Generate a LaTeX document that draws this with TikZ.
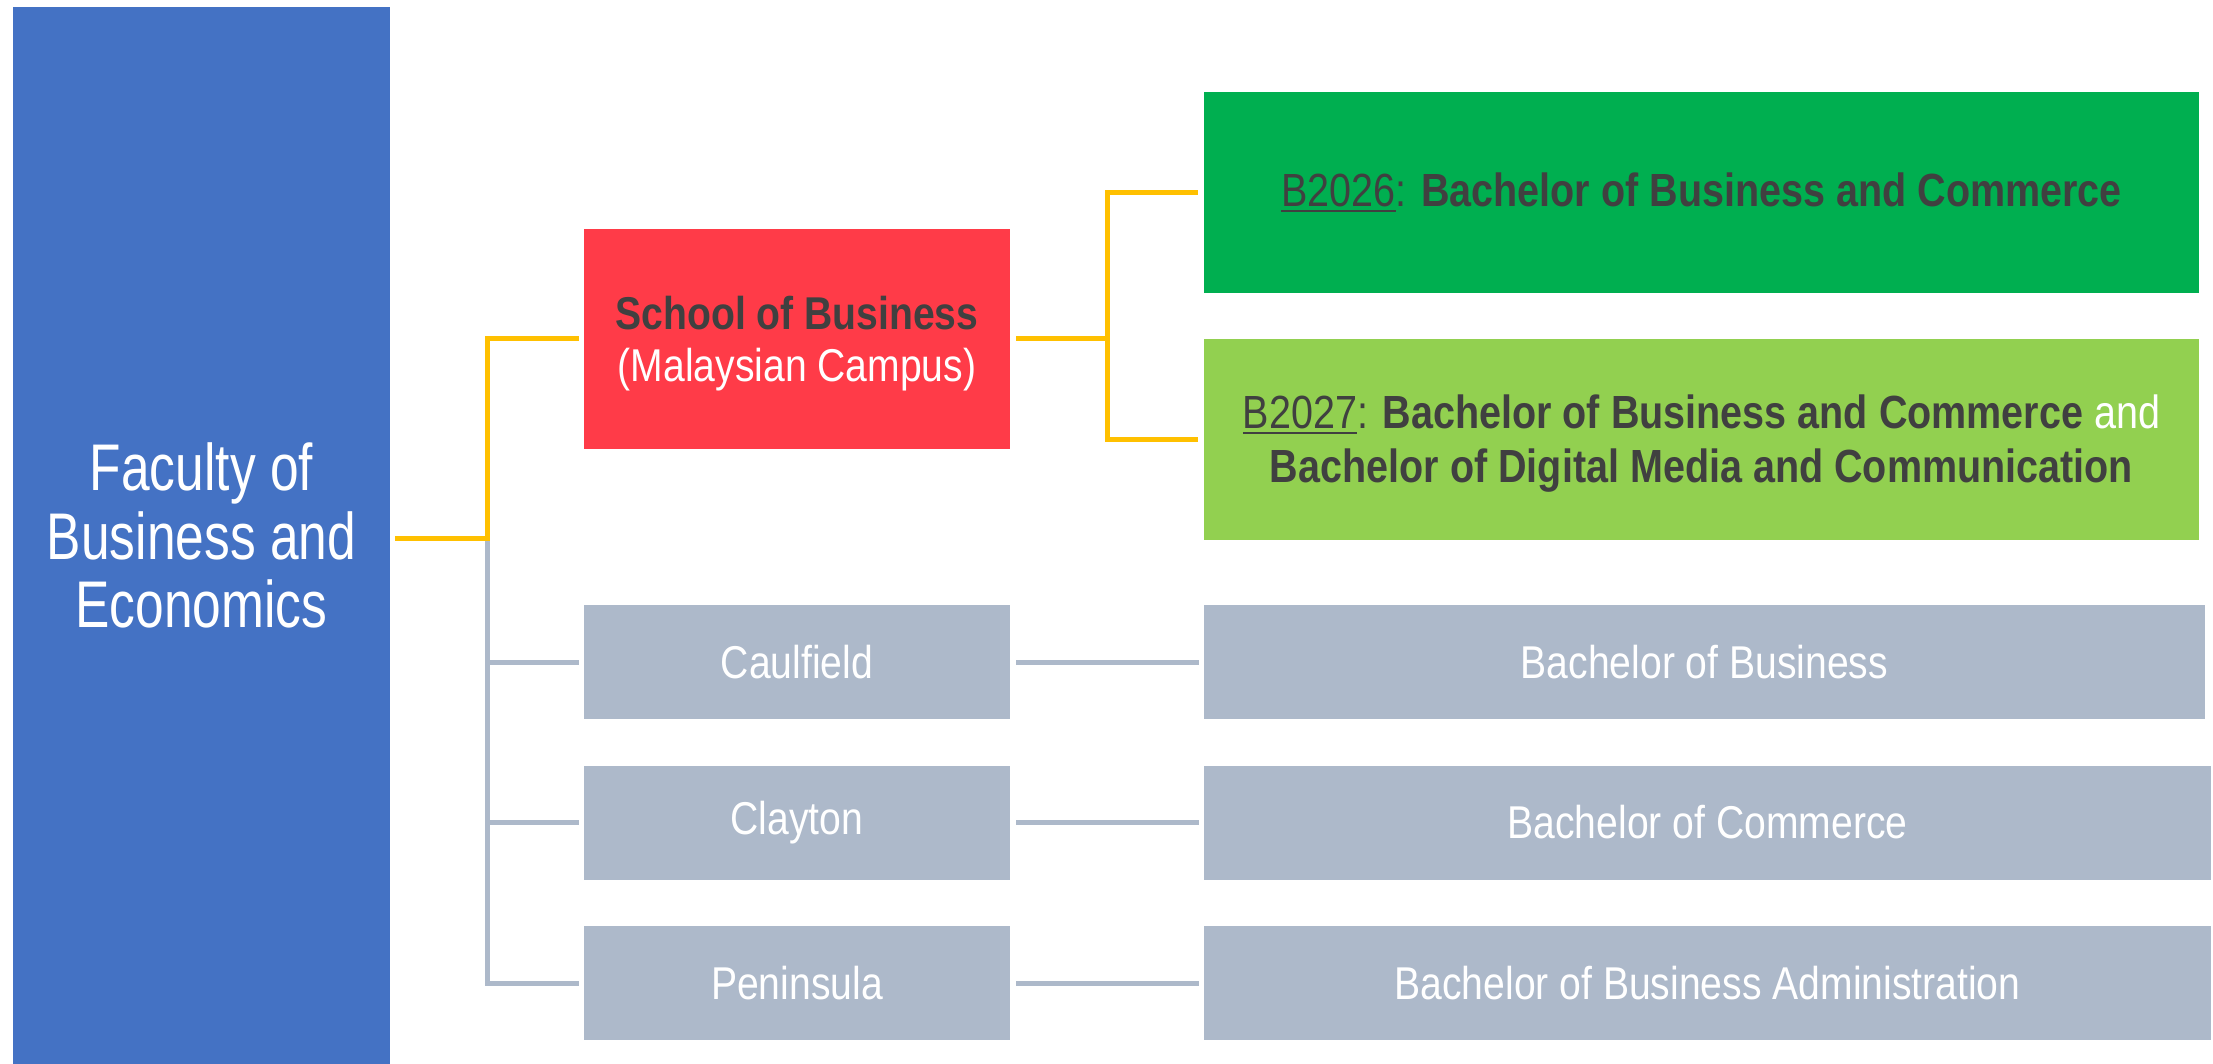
\documentclass[tikz,border=0pt]{standalone}
\usepackage{fontspec}
\setmainfont{Liberation Sans}[FakeStretch=0.85]
\newfontfamily\facfont{Liberation Sans}[FakeStretch=0.78]
\usetikzlibrary{calc}

\definecolor{facblue}{HTML}{4472C4}
\definecolor{schred}{HTML}{FF3B48}
\definecolor{dkgreen}{HTML}{00AF50}
\definecolor{ltgreen}{HTML}{92D050}
\definecolor{slate}{HTML}{ADB9CA}
\definecolor{gold}{HTML}{FFC000}
\definecolor{ink}{HTML}{404040}

% course code with a thick underline
\newsavebox\codebox
\newcommand\coursecode[1]{\sbox\codebox{#1}\rlap{\color{ink}\rule[-6pt]{\wd\codebox}{2.6pt}}\usebox\codebox}

\begin{document}
\begin{tikzpicture}[x=1pt,y=-1pt,
  blk/.style 2 args={rectangle, draw=none, inner sep=0pt, align=center,
    minimum width=#1, minimum height=#2},
  goldline/.style={draw=gold, line width=5pt},
  slateline/.style={draw=slate, line width=5pt},
  campus/.style={blk={426pt}{114pt}, fill=slate, text=white,
    font=\fontsize{46}{50}\selectfont},
  degree/.style={blk={#1}{114pt}, fill=slate, text=white,
    font=\fontsize{46}{50}\selectfont},
  course/.style={blk={995pt}{201pt}, text=ink, font=\fontsize{46.5}{53}\selectfont},
  coursetext/.style={inner sep=0pt, align=center, text=ink,
    font=\fontsize{46.5}{54}\selectfont}]

\fill[white] (0,0) rectangle (2213,1064);
\useasboundingbox (0,0) rectangle (2213,1064);

% faculty
\node[blk={377pt}{1057pt}, fill=facblue, text=white,
  font=\facfont\fontsize{66}{68.5}\selectfont] (fac) at (201.5,535.5)
  {Faculty of\\Business and\\Economics};

% school and its courses
\node[blk={426pt}{220pt}, fill=schred] (school) at (797,339) {};
\node[inner sep=0pt, align=center, font=\fontsize{46}{52}\selectfont]
  (schooltext) at ([yshift=-5pt]school.center)
  {{\color{ink}\bfseries School of Business}\\{\color{white}(Malaysian Campus)}};
\node[course, fill=dkgreen] (g1) at (1701.5,192.5)
  {\coursecode{B2026}: \textbf{Bachelor of Business and Commerce}};
\node[course, fill=ltgreen] (g2) at (1701.5,439.5) {};
\node[coursetext] (g2text) at ([yshift=-4pt]g2.center)
  {\coursecode{B2027}: \textbf{Bachelor of Business and Commerce} \textcolor{white}{and}\\
   \textbf{Bachelor of Digital Media and Communication}};

% campuses
\node[campus] (caul) at (797,662) {Caulfield};
\node[campus] (clay) at (797,822.5) {Clayton};
\node[campus] (pen) at (797,983) {Peninsula};

% degrees
\node[degree={1001pt}] (bb) at (1704.5,662) {Bachelor of Business};
\node[degree={1007pt}] (bc) at (1707.5,822.5) {Bachelor of Commerce};
\node[degree={1007pt}] (bba) at (1707.5,983) {Bachelor of Business Administration};

% junctions
\coordinate (jl) at (487,538);
\coordinate (jr) at (1107,339);

% grey tree
\draw[slateline] (jl) |- ([xshift=-5pt]pen.west);
\draw[slateline] (jl |- caul) -- ([xshift=-5pt]caul.west);
\draw[slateline] (jl |- clay) -- ([xshift=-5pt]clay.west);
\draw[slateline] ([xshift=6pt]caul.east) -- ([xshift=-5pt]bb.west);
\draw[slateline] ([xshift=6pt]clay.east) -- ([xshift=-5pt]bc.west);
\draw[slateline] ([xshift=6pt]pen.east) -- ([xshift=-5pt]bba.west);

% gold tree
\draw[goldline] ([xshift=5pt]fac.east |- jl) -- (jl) |- ([xshift=-5pt]school.west);
\draw[goldline] ([xshift=6pt]school.east) -- (jr);
\draw[goldline] ([xshift=-6pt]g1.west) -| (jr |- g2) -- ([xshift=-6pt]g2.west);
\end{tikzpicture}
\end{document}
